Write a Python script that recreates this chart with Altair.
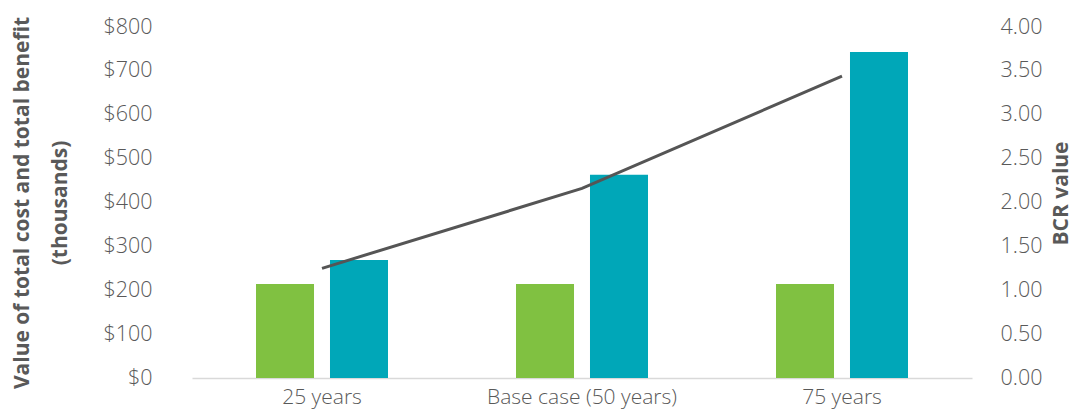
import altair as alt
import pandas as pd

categories = ["25 years", "Base case (50 years)", "75 years"]
total_cost = [214, 214, 214]
total_benefit = [269, 463, 743]
bcr = [1.25, 2.16, 3.44]

series_names = ["Total cost", "Total benefit"]
colors = ["#80c141", "#00a7b8"]

rows = []
for i, c in enumerate(categories):
    rows.append({"cat": c, "series": series_names[0], "value": total_cost[i]})
    rows.append({"cat": c, "series": series_names[1], "value": total_benefit[i]})
bars_df = pd.DataFrame(rows)
line_df = pd.DataFrame({"cat": categories, "bcr": bcr})

FONT = "Open Sans"
GREY = "#595959"
LSIZE = 21.5
TSIZE = 21

x_enc = alt.X(
    "cat:N",
    sort=categories,
    scale=alt.Scale(paddingInner=0, paddingOuter=0),
    axis=alt.Axis(
        title=None, labelAngle=0, ticks=False, labelPadding=8, labelLimit=0,
        labelFontSize=21, labelFont=FONT, labelColor=GREY, labelFontWeight=300,
        domainColor="#d9d9d9", domainWidth=1.5, grid=False,
    ),
)

bars = alt.Chart(bars_df).mark_bar().encode(
    x=x_enc,
    xOffset=alt.XOffset(
        "series:N", sort=series_names,
        scale=alt.Scale(paddingInner=0.216, paddingOuter=0.865),
    ),
    y=alt.Y(
        "value:Q",
        scale=alt.Scale(domain=[0, 800]),
        axis=alt.Axis(
            title=["Value of total cost and total benefit", "(thousands)"],
            values=[0, 100, 200, 300, 400, 500, 600, 700, 800],
            format="$,.0f", ticks=False, domain=False, grid=False,
            labelPadding=40, labelFontSize=LSIZE, labelFont=FONT, labelColor=GREY,
            labelFontWeight=300,
            titleFontSize=TSIZE, titleFont=FONT, titleFontWeight="bold",
            titleColor=GREY, titleLineHeight=38, titleX=-160,
        ),
    ),
    color=alt.Color("series:N", sort=series_names,
                    scale=alt.Scale(domain=series_names, range=colors),
                    legend=None),
)

line = alt.Chart(line_df).mark_line(color="#555555", strokeWidth=3).encode(
    x=alt.X("cat:N", sort=categories),
    y=alt.Y(
        "bcr:Q",
        scale=alt.Scale(domain=[0, 4]),
        axis=alt.Axis(
            title="BCR value", orient="right",
            values=[0, 0.5, 1, 1.5, 2, 2.5, 3, 3.5, 4],
            format=".2f", ticks=False, domain=False, grid=False,
            labelPadding=28, labelFontSize=LSIZE, labelFont=FONT, labelColor=GREY,
            labelFontWeight=300,
            titleFontSize=TSIZE, titleFont=FONT, titleFontWeight="bold",
            titleColor=GREY, titleAngle=270, titleBaseline="middle",
            titleX=89, titleY=166,
        ),
    ),
)

chart = alt.layer(bars, line).resolve_scale(y="independent").properties(
    width=780, height=351,
    autosize=alt.AutoSizeParams(type="none"),
    padding={"left": 184, "top": 19, "right": 101, "bottom": 33},
).configure(font=FONT).configure_view(strokeWidth=0, stroke="transparent")

chart.save("out.html", embed_options={"renderer": "svg", "actions": False})
